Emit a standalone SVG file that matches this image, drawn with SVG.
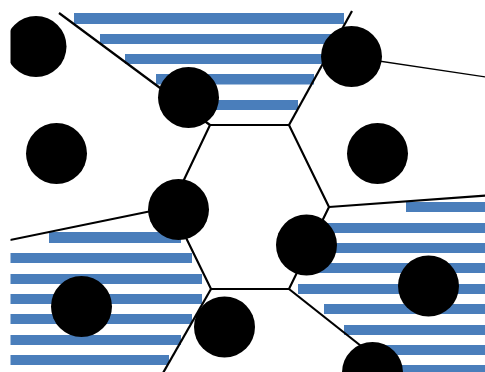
<svg xmlns="http://www.w3.org/2000/svg" width="485" height="372" viewBox="0 0 485 372">
<style>
.bar{fill:#4a7ebb}
.edge{stroke:#000;stroke-width:2.2;fill:none;stroke-linecap:butt;stroke-linejoin:miter}
.thin{stroke:#000;stroke-width:1.3;fill:none}
.node{fill:#000}
</style>
<defs>
<clipPath id="frame"><rect x="10.5" y="0" width="474.5" height="372"/></clipPath>
</defs>
<rect width="485" height="372" fill="#fff"/>
<g clip-path="url(#frame)">
<g id="bars">
<rect class="bar" x="74" y="13" width="270" height="11"/>
<rect class="bar" x="100" y="34" width="236" height="10"/>
<rect class="bar" x="125" y="54" width="201" height="10"/>
<rect class="bar" x="156" y="74" width="158" height="10.5"/>
<rect class="bar" x="190" y="100" width="108" height="10"/>
<rect class="bar" x="49" y="232" width="132" height="11"/>
<rect class="bar" x="10" y="253" width="182" height="10"/>
<rect class="bar" x="10" y="274" width="192" height="10"/>
<rect class="bar" x="10" y="294" width="192" height="10"/>
<rect class="bar" x="10" y="314" width="182" height="10"/>
<rect class="bar" x="10" y="335" width="171" height="10"/>
<rect class="bar" x="10" y="355" width="159" height="10"/>
<rect class="bar" x="406" y="202" width="79" height="10"/>
<rect class="bar" x="326" y="223" width="159" height="10"/>
<rect class="bar" x="318" y="243" width="167" height="10"/>
<rect class="bar" x="310" y="263" width="175" height="10"/>
<rect class="bar" x="298" y="284" width="187" height="10"/>
<rect class="bar" x="324" y="304" width="161" height="10"/>
<rect class="bar" x="344" y="325" width="141" height="10"/>
<rect class="bar" x="370" y="345" width="115" height="10"/>
<rect class="bar" x="392" y="365" width="93" height="10"/>
</g>
<g id="connectors">
<polygon class="edge" points="210,125 289,125 329,207 289,289 211,289 171,207"/>
<line class="edge" x1="210" y1="125" x2="59" y2="13"/>
<line class="edge" x1="289" y1="125" x2="352" y2="11"/>
<line class="edge" x1="329" y1="207" x2="486" y2="195.5"/>
<line class="edge" x1="289" y1="289" x2="380" y2="361"/>
<line class="edge" x1="211" y1="289" x2="163" y2="373"/>
<line class="edge" x1="171" y1="207" x2="10" y2="240"/>
<line class="thin" x1="352" y1="57" x2="486" y2="77"/>
</g>
<g id="n1"><circle class="node" cx="36" cy="46.5" r="30.5"/></g>
<g id="n2"><circle class="node" cx="188.5" cy="97.5" r="30.5"/></g>
<g id="n3"><circle class="node" cx="351.5" cy="56.5" r="30.5"/></g>
<g id="n4"><circle class="node" cx="56.5" cy="153.5" r="30.5"/></g>
<g id="n5"><circle class="node" cx="377.5" cy="153.5" r="30.5"/></g>
<g id="n6"><circle class="node" cx="178.5" cy="209.5" r="30.5"/></g>
<g id="n7"><circle class="node" cx="306.5" cy="245" r="30.5"/></g>
<g id="n8"><circle class="node" cx="81.5" cy="306.5" r="30.5"/></g>
<g id="n9"><circle class="node" cx="224.5" cy="327" r="30.5"/></g>
<g id="n10"><circle class="node" cx="428.5" cy="286" r="30.5"/></g>
<g id="n11"><circle class="node" cx="372.5" cy="372.5" r="30.5"/></g>
</g>
</svg>
